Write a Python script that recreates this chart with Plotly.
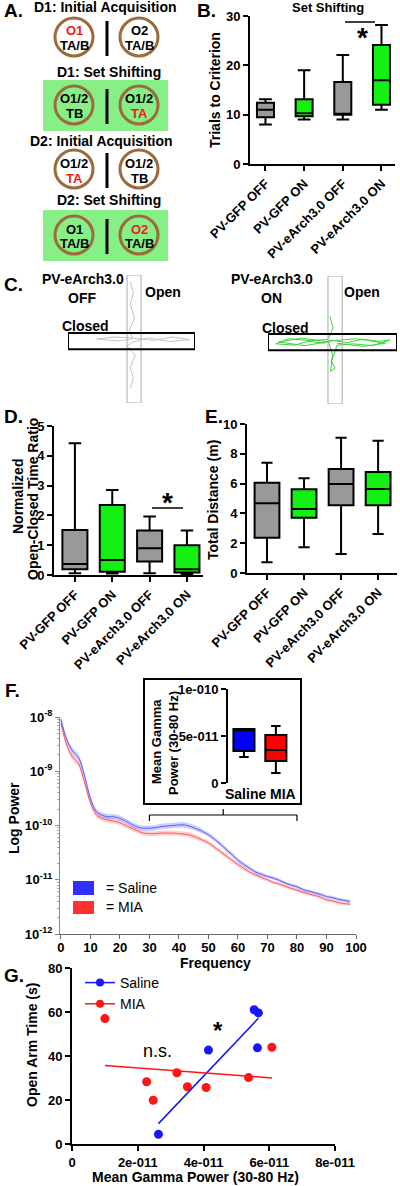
import numpy as np
import plotly.graph_objects as go

W, H = 400, 1186
FONT = "Liberation Sans"


def px(x):
    return x / W


def py(y):
    return 1 - y / H


# ---------------- DATA ----------------
groups = ["PV-GFP OFF", "PV-GFP ON", "PV-eArch3.0 OFF", "PV-eArch3.0 ON"]

# B. Set shifting - trials to criterion
trials_low = [8, 9, 9, 11]
trials_q1 = [9.5, 9.7, 10, 12]
trials_med = [11, 10.3, 10, 17]
trials_q3 = [12.4, 13.1, 16.6, 24.1]
trials_high = [13.1, 19, 22.1, 28.2]

# D. Normalized open-closed time ratio
ratio_low = [0.06, 0.05, 0.06, 0.02]
ratio_q1 = [0.19, 0.11, 0.45, 0.08]
ratio_med = [0.37, 0.5, 0.9, 0.19]
ratio_q3 = [1.51, 2.35, 1.49, 1.0]
ratio_high = [4.42, 2.85, 1.96, 1.49]

# E. Total distance (m)
dist_low = [0.72, 1.72, 1.28, 2.62]
dist_q1 = [2.37, 3.71, 4.54, 4.54]
dist_med = [4.68, 4.3, 5.97, 5.64]
dist_q3 = [6.06, 5.62, 6.98, 6.78]
dist_high = [7.4, 6.36, 9.08, 8.88]

# C. Example tracks (maze units, centre = 0,0)
off_track_u = [-0.02, 0.03, -0.02, 0.05, -0.04, 0.02, -0.30, -0.55, -0.20, 0.05, 0.35, 0.65, 0.92,
               0.60, 0.25, 0.02, -0.07, 0.06, -0.02, 0.03, -0.02]
off_track_v = [0.90, 0.72, 0.54, 0.33, 0.12, 0.02, 0.03, 0.00, -0.03, 0.01, -0.02, 0.03, -0.01,
               -0.04, 0.02, -0.05, -0.11, -0.25, -0.45, -0.61, -0.77]
on_track_u = [-0.04, 0.01, -0.07, -0.33, -0.68, -0.88, -0.58, -0.38, -0.13, -0.03, 0.22, 0.47, 0.72,
              0.89, 0.62, 0.32, 0.07, 0.04, -0.02, 0.04, -0.03, 0.00, -0.06, -0.48, -0.83, -0.43,
              0.02, 0.37, 0.82, 0.47, 0.07]
on_track_v = [0.37, 0.19, 0.01, -0.01, 0.02, -0.06, -0.08, -0.02, -0.05, 0.00, -0.04, 0.01, -0.02,
              0.00, -0.09, -0.06, -0.08, -0.18, -0.33, -0.44, -0.49, -0.23, -0.03, 0.03, -0.03,
              -0.09, -0.01, 0.02, -0.05, -0.10, -0.05]

# F. Power spectra (log10 power) with SEM (log units)
freq = [0, 2, 4, 6, 8, 10, 12, 14, 16, 18, 20, 22, 24, 26, 28, 30, 32, 34, 36, 38, 40, 42, 44, 46, 48,
        50, 52, 54, 56, 58, 60, 62, 64, 66, 68, 70, 72, 74, 76, 78, 80, 82, 84, 86, 88, 90, 92, 94, 96, 98]
saline_logpow = [-8.04, -8.42, -8.63, -8.75, -9.08, -9.50, -9.74, -9.81, -9.84, -9.84,
                 -9.87, -9.92, -9.98, -10.03, -10.05, -10.05, -10.04, -10.02, -10.01, -10.00,
                 -9.99, -9.99, -10.02, -10.06, -10.11, -10.17, -10.25, -10.34, -10.44, -10.54,
                 -10.64, -10.72, -10.79, -10.86, -10.90, -10.94, -10.97, -11.01, -11.06, -11.10,
                 -11.13, -11.18, -11.21, -11.24, -11.27, -11.31, -11.33, -11.36, -11.38, -11.40]
mia_logpow = [-8.11, -8.52, -8.74, -8.86, -9.20, -9.58, -9.80, -9.87, -9.90, -9.92,
              -9.95, -10.00, -10.05, -10.10, -10.14, -10.15, -10.15, -10.14, -10.14, -10.14,
              -10.15, -10.16, -10.18, -10.22, -10.27, -10.32, -10.40, -10.48, -10.56, -10.64,
              -10.72, -10.79, -10.86, -10.91, -10.96, -11.00, -11.05, -11.08, -11.12, -11.16,
              -11.19, -11.23, -11.26, -11.29, -11.32, -11.37, -11.39, -11.42, -11.44, -11.45]
saline_sem = [0.06, 0.06, 0.06, 0.06, 0.06, 0.05, 0.05, 0.05, 0.05, 0.05,
              0.05, 0.05, 0.05, 0.05, 0.05, 0.05, 0.05, 0.05, 0.05, 0.05,
              0.05, 0.05, 0.05, 0.05, 0.04, 0.04, 0.04, 0.04, 0.04, 0.04,
              0.04, 0.04, 0.035, 0.035, 0.035, 0.03, 0.03, 0.03, 0.03, 0.03,
              0.03, 0.03, 0.03, 0.03, 0.03, 0.03, 0.03, 0.03, 0.03, 0.03]
mia_sem = [0.06, 0.06, 0.06, 0.06, 0.06, 0.05, 0.05, 0.05, 0.045, 0.045,
           0.045, 0.045, 0.045, 0.045, 0.045, 0.045, 0.045, 0.045, 0.045, 0.045,
           0.045, 0.045, 0.045, 0.045, 0.04, 0.04, 0.04, 0.04, 0.04, 0.04,
           0.04, 0.04, 0.035, 0.035, 0.035, 0.03, 0.03, 0.03, 0.03, 0.03,
           0.03, 0.03, 0.03, 0.03, 0.03, 0.03, 0.03, 0.03, 0.03, 0.03]

# F inset. Mean gamma power (30-80 Hz)
inset_groups = ["Saline", "MIA"]
gamma_low = [2.77e-11, 1.06e-11]
gamma_q1 = [3.4e-11, 2.34e-11]
gamma_med = [5.6e-11, 3.5e-11]
gamma_q3 = [5.74e-11, 5.1e-11]
gamma_high = [5.74e-11, 6.06e-11]

# G. Open arm time vs mean gamma power
saline_gamma = [2.63e-11, 4.15e-11, 5.54e-11, 5.67e-11, 5.64e-11]
saline_open = [4.4, 42.7, 61.0, 59.6, 43.7]
mia_gamma = [1.0e-11, 2.27e-11, 2.47e-11, 3.19e-11, 3.51e-11, 4.08e-11, 5.37e-11, 6.08e-11]
mia_open = [57.0, 28.3, 19.9, 32.4, 26.0, 25.7, 30.2, 44.0]

# Panel A schematic labels
a_titles = ["D1: Initial Acquisition", "D1: Set Shifting", "D2: Initial Acquisition", "D2: Set Shifting"]
a_cells = [
    [("O1", "red", "TA/B", "black"), ("O2", "black", "TA/B", "black")],
    [("O1/2", "black", "TB", "black"), ("O1/2", "black", "TA", "red")],
    [("O1/2", "black", "TA", "red"), ("O1/2", "black", "TB", "black")],
    [("O1", "black", "TA/B", "black"), ("O2", "red", "TA/B", "black")],
]

# ---------------- STYLE ----------------
GRAY = "#999999"
GREEN = "#14f014"
BROWN = "#9b6b3e"
LIGHTGREEN = "#86ef86"
RED = "#ee1c1c"
fills4 = [GRAY, GREEN, GRAY, GREEN]

fig = go.Figure()
shapes = []


def tf(size=13, bold=True, color="black"):
    return dict(family=FONT, size=size, color=color, weight="bold" if bold else "normal")


def ann(text, x, y, size=14, bold=True, color="black", xanchor="center", yanchor="middle", angle=0):
    fig.add_annotation(text=text, x=px(x), y=py(y), xref="paper", yref="paper", showarrow=False,
                       font=tf(size, bold, color), xanchor=xanchor, yanchor=yanchor, textangle=angle)


def rect(x0, y0, x1, y1, color="black", width=1, fill="rgba(0,0,0,0)"):
    shapes.append(dict(type="rect", xref="paper", yref="paper", x0=px(x0), x1=px(x1), y0=py(y1), y1=py(y0),
                       line=dict(color=color, width=width), fillcolor=fill))


def line(x0, y0, x1, y1, color="black", width=1):
    shapes.append(dict(type="line", xref="paper", yref="paper", x0=px(x0), x1=px(x1), y0=py(y0), y1=py(y1),
                       line=dict(color=color, width=width)))


def add_boxes(xa, ya, cats, lo, q1, med, q3, hi, fills, width, ww):
    for i in range(len(cats)):
        fig.add_trace(go.Box(x=[cats[i]], lowerfence=[lo[i]], q1=[q1[i]], median=[med[i]], q3=[q3[i]],
                             upperfence=[hi[i]], fillcolor=fills[i], line=dict(color="black", width=2),
                             width=width, whiskerwidth=ww, xaxis=xa, yaxis=ya, showlegend=False,
                             hoverinfo="skip", boxpoints=False))


def axstyle(**kw):
    d = dict(showgrid=False, zeroline=False, showline=True, linecolor="black", linewidth=2, automargin=False,
             ticks="outside", ticklen=5, tickwidth=2, tickcolor="black", tickfont=tf(13), fixedrange=True)
    d.update(kw)
    return d


# ---------- Panel A ----------
ann("A.", 2, 11, size=19, xanchor="left")
row_cy = [37, 105, 169, 235]
title_y = [7, 72, 141, 200]
title_x = [105, 109, 101, 109]
for r in range(4):
    if r in (1, 3):
        rect(43, row_cy[r] - 25, 168, row_cy[r] + 26, color=LIGHTGREEN, width=0, fill=LIGHTGREEN)
for r in range(4):
    cy = row_cy[r]
    ann(a_titles[r], title_x[r], title_y[r], size=14)
    for k, cx in enumerate([74, 139]):
        shapes.append(dict(type="circle", xref="paper", yref="paper", x0=px(cx - 19), x1=px(cx + 19),
                           y0=py(cy + 19), y1=py(cy - 19), line=dict(color=BROWN, width=3)))
        t1, c1, t2, c2 = a_cells[r][k]
        ann(t1, cx, cy - 6, size=13, color=RED if c1 == "red" else "black")
        ann(t2, cx, cy + 9, size=13, color=RED if c2 == "red" else "black")
    line(107, cy - 16, 107, cy + 19, width=3)

# ---------- Panel B ----------
ann("B.", 195, 11, size=19, xanchor="left")
ann("Set Shifting", 328, 7, size=13)
add_boxes("x", "y", groups, trials_low, trials_q1, trials_med, trials_q3, trials_high, fills4, 0.44, 0.75)
ann("Trials to Criterion", 215, 90, size=14, angle=-90)
line(345, 22, 375, 22, width=1.5)
ann("*", 362, 38, size=28)

# ---------- Panel C ----------
ann("C.", 2, 284, size=19, xanchor="left")
ann("PV-eArch3.0", 83, 279, size=14)
ann("OFF", 82, 298, size=14)
ann("Open", 163, 292, size=14)
ann("Closed", 85, 326, size=14)
ann("PV-eArch3.0", 272, 279, size=14)
ann("ON", 271, 298, size=14)
ann("Open", 362, 292, size=14)
ann("Closed", 285, 328, size=14)
for xa, ya in [("x7", "y7"), ("x8", "y8")]:
    shapes.append(dict(type="rect", xref=xa, yref=ya, x0=-0.07, x1=0.15, y0=-1, y1=1,
                       line=dict(color="#aaaaaa", width=1)))
    shapes.append(dict(type="rect", xref=xa, yref=ya, x0=-1, x1=1, y0=-0.16, y1=0.094,
                       line=dict(color="black", width=2)))
fig.add_trace(go.Scatter(x=off_track_u, y=off_track_v, mode="lines", line=dict(color="#c4c4c4", width=1),
                         xaxis="x7", yaxis="y7", showlegend=False, hoverinfo="skip"))
fig.add_trace(go.Scatter(x=on_track_u, y=on_track_v, mode="lines", line=dict(color="#3ad63a", width=1),
                         xaxis="x8", yaxis="y8", showlegend=False, hoverinfo="skip"))

# ---------- Panel D ----------
ann("D.", 2, 416, size=19, xanchor="left")
add_boxes("x2", "y2", groups, ratio_low, ratio_q1, ratio_med, ratio_q3, ratio_high, fills4, 0.67, 0.5)
ann("Normalized", 18, 497, size=14, angle=-90)
ann("Open-Closed Time Ratio", 33, 499, size=14, angle=-90)
line(152, 508, 183, 508, width=1.5)
ann("*", 167, 502, size=28)

# ---------- Panel E ----------
ann("E.", 203, 416, size=19, xanchor="left")
add_boxes("x3", "y3", groups, dist_low, dist_q1, dist_med, dist_q3, dist_high, fills4, 0.67, 0.45)
ann("Total Distance (m)", 213, 500, size=14, angle=-90)

# ---------- Panel F ----------
ann("F.", 3, 690, size=19, xanchor="left")
for L, S, lc, bc in [(mia_logpow, mia_sem, "#ff5a5a", "rgba(255,130,130,0.40)"),
                     (saline_logpow, saline_sem, "#5a5aff", "rgba(130,130,255,0.40)")]:
    up = [10 ** (a + b) for a, b in zip(L, S)]
    lo = [10 ** (a - b) for a, b in zip(L, S)]
    fig.add_trace(go.Scatter(x=freq, y=up, mode="lines", line=dict(width=0, shape="spline"),
                             xaxis="x4", yaxis="y4", showlegend=False, hoverinfo="skip"))
    fig.add_trace(go.Scatter(x=freq, y=lo, mode="lines", line=dict(width=0, shape="spline"), fill="tonexty",
                             fillcolor=bc, xaxis="x4", yaxis="y4", showlegend=False, hoverinfo="skip"))
    fig.add_trace(go.Scatter(x=freq, y=[10 ** a for a in L], mode="lines",
                             line=dict(color=lc, width=1, shape="spline"),
                             xaxis="x4", yaxis="y4", showlegend=False, hoverinfo="skip"))
ann("Log Power", 14, 818, size=14, angle=-90)
ann("Frequency", 215, 963, size=14)
# bracket over 30-80 Hz
shapes.append(dict(type="line", xref="x4", yref="paper", x0=30, x1=80, y0=py(815), y1=py(815),
                   line=dict(color="black", width=1.2)))
for fx, y0, y1 in [(30, 815, 821), (80, 815, 821), (55, 809, 815)]:
    shapes.append(dict(type="line", xref="x4", yref="paper", x0=fx, x1=fx, y0=py(y0), y1=py(y1),
                       line=dict(color="black", width=1.2)))
# legend key
rect(73, 881, 94, 895, color="#3030ff", width=0, fill="#3030ff")
rect(73, 901, 94, 914, color="#ff3030", width=0, fill="#ff3030")
ann("= Saline", 104, 888, size=14, bold=False, xanchor="left")
ann("= MIA", 104, 907, size=14, bold=False, xanchor="left")
# inset
rect(144, 679, 301, 804, color="black", width=2)
add_boxes("x5", "y5", inset_groups, gamma_low, gamma_q1, gamma_med, gamma_q3, gamma_high,
          ["#0000ff", "#ff0000"], 0.66, 0.45)
ann("Mean Gamma", 156, 742, size=13, angle=-90)
ann("Power (30-80 Hz)", 173, 743, size=13, angle=-90)
ann("Saline", 245, 794, size=14)
ann("MIA", 283, 794, size=14)

# ---------- Panel G ----------
ann("G.", 2, 975, size=19, xanchor="left")
fig.add_trace(go.Scatter(x=saline_gamma, y=saline_open, mode="markers", marker=dict(color="#1515ff", size=9),
                         xaxis="x6", yaxis="y6", showlegend=False, hoverinfo="skip"))
fig.add_trace(go.Scatter(x=mia_gamma, y=mia_open, mode="markers", marker=dict(color="#ff1515", size=9),
                         xaxis="x6", yaxis="y6", showlegend=False, hoverinfo="skip"))
for gx, gy, c in [(saline_gamma, saline_open, "#1515ff"), (mia_gamma, mia_open, "#ff1515")]:
    k, b = np.polyfit(np.array(gx), np.array(gy), 1)
    xs = [min(gx), max(gx)]
    fig.add_trace(go.Scatter(x=xs, y=[k * v + b for v in xs], mode="lines", line=dict(color=c, width=1.5),
                             xaxis="x6", yaxis="y6", showlegend=False, hoverinfo="skip"))
fig.add_trace(go.Scatter(x=[None], y=[None], mode="lines+markers", name="Saline",
                         line=dict(color="#1515ff", width=1.5), marker=dict(color="#1515ff", size=8),
                         xaxis="x6", yaxis="y6"))
fig.add_trace(go.Scatter(x=[None], y=[None], mode="lines+markers", name="MIA",
                         line=dict(color="#ff1515", width=1.5), marker=dict(color="#ff1515", size=8),
                         xaxis="x6", yaxis="y6"))
ann("Open Arm Time (s)", 32, 1045, size=14, angle=-90)
ann("Mean Gamma Power (30-80 Hz)", 195, 1177, size=14)
ann("n.s.", 157, 1051, size=18, bold=False)
ann("*", 218, 1030, size=24)

minor_vals = [m * 10.0 ** e for e in range(-12, -8) for m in range(2, 10)]

fig.update_layout(
    width=W, height=H, margin=dict(l=0, r=0, t=0, b=0, autoexpand=False), autosize=False,
    paper_bgcolor="white", plot_bgcolor="white", boxmode="overlay",
    font=dict(family=FONT, color="black"),
    shapes=shapes,
    showlegend=True,
    legend=dict(x=px(80), y=py(967), xanchor="left", yanchor="top", bgcolor="rgba(0,0,0,0)",
                font=tf(14, bold=False), tracegroupgap=0, itemwidth=30, traceorder="normal"),
    xaxis=axstyle(domain=[px(250), px(395)], anchor="y", range=[-0.4, 3.35], tickangle=-45, type="category"),
    yaxis=axstyle(domain=[py(164), py(16)], anchor="x", range=[0, 30], tickvals=[0, 10, 20, 30]),
    xaxis2=axstyle(domain=[px(54), px(203)], anchor="y2", range=[-0.56, 3.43], tickangle=-45, type="category"),
    yaxis2=axstyle(domain=[py(575), py(426)], anchor="x2", range=[0, 5], tickvals=[0, 1, 2, 3, 4, 5]),
    xaxis3=axstyle(domain=[px(247), px(397)], anchor="y3", range=[-0.54, 3.51], tickangle=-45, type="category"),
    yaxis3=axstyle(domain=[py(573), py(424)], anchor="x3", range=[0, 10], tickvals=[0, 2, 4, 6, 8, 10]),
    xaxis4=axstyle(domain=[px(60), px(356)], anchor="y4", range=[-0.3, 100], tickvals=list(range(0, 101, 10)),
                   tickangle=0, ticklabelstandoff=-3,
                   linecolor="#666666", linewidth=1, tickcolor="#666666", tickwidth=1, ticklen=4),
    yaxis4=axstyle(domain=[py(934), py(717)], anchor="x4", type="log", range=[-12, -8],
                   tickvals=[1e-12, 1e-11, 1e-10, 1e-9, 1e-8],
                   ticktext=["10<sup>-12</sup>", "10<sup>-11</sup>", "10<sup>-10</sup>", "10<sup>-9</sup>",
                             "10<sup>-8</sup>"],
                   linecolor="#888888", linewidth=1, tickcolor="#888888", tickwidth=1, ticklen=4,
                   minor=dict(tickvals=minor_vals, ticks="outside", ticklen=2, tickcolor="#aaaaaa",
                              showgrid=False)),
    xaxis5=axstyle(domain=[px(228), px(295)], anchor="y5", range=[-0.5, 1.6], type="category",
                   showline=False, ticks="", showticklabels=False),
    yaxis5=axstyle(domain=[py(783), py(689)], anchor="x5", range=[0, 1e-10],
                   tickvals=[0, 5e-11, 1e-10], ticktext=["0", "5e-011", "1e-010"]),
    xaxis6=axstyle(domain=[px(72), px(335)], anchor="y6", range=[0, 8e-11], tickangle=0,
                   tickvals=[0, 2e-11, 4e-11, 6e-11, 8e-11], ticktext=["0", "2e-011", "4e-011", "6e-011", "8e-011"]),
    yaxis6=axstyle(domain=[py(1144), py(968)], anchor="x6", range=[0, 80], tickvals=[0, 20, 40, 60, 80]),
    xaxis7=dict(domain=[px(68), px(195)], anchor="y7", range=[-1, 1], visible=False, fixedrange=True),
    yaxis7=dict(domain=[py(403), py(275)], anchor="x7", range=[-1, 1], visible=False, fixedrange=True),
    xaxis8=dict(domain=[px(268), px(397)], anchor="y8", range=[-1, 1], visible=False, fixedrange=True),
    yaxis8=dict(domain=[py(404), py(276)], anchor="x8", range=[-1, 1], visible=False, fixedrange=True),
)

# remove the default 8 px page margin so the 400x1186 figure fills the window exactly
fig.write_html("out.html", config={"displayModeBar": False, "staticPlot": True},
               post_script="document.body.style.margin='0';")
